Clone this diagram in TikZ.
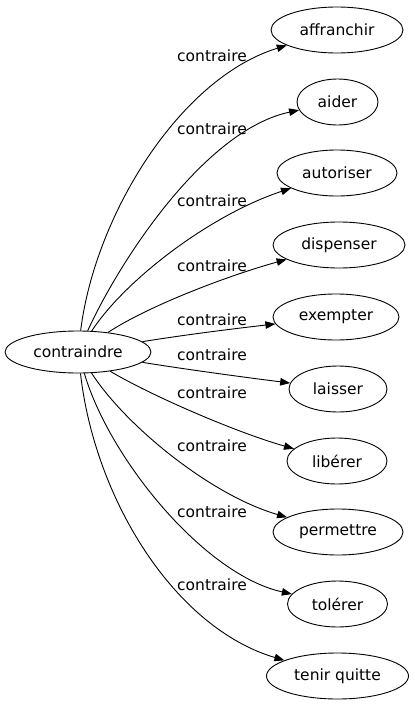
\documentclass[tikz,border=0pt]{standalone}
\usepackage{fontspec}
\setmainfont{DejaVu Sans}
\usetikzlibrary{shapes.geometric,arrows.meta}
\begin{document}
\begin{tikzpicture}[x=1pt,y=-1pt,
  word/.style={ellipse,draw,line width=0.9pt,minimum height=46pt,inner sep=0pt,font=\fontsize{15.5}{18}\selectfont},
  rel/.style={font=\fontsize{15.5}{18}\selectfont,inner sep=0pt},
  link/.style={line width=0.9pt,-{Triangle[length=10pt,width=7.5pt]}}]
\useasboundingbox (0,0) rectangle (413,707);
\node[word,minimum width=146pt,minimum height=42pt] (root) at (78,352) {contraindre};
\node[word,minimum width=132pt] (n1) at (337,30) {affranchir};
\node[word,minimum width=81pt] (n2) at (337.5,102) {aider};
\node[word,minimum width=120pt] (n3) at (337,173) {autoriser};
\node[word,minimum width=132pt] (n4) at (339,245) {dispenser};
\node[word,minimum width=126pt] (n5) at (336,317) {exempter};
\node[word,minimum width=98pt] (n6) at (338,389) {laisser};
\node[word,minimum width=100pt] (n7) at (337,461) {libérer};
\node[word,minimum width=130pt] (n8) at (338,532) {permettre};
\node[word,minimum width=100pt] (n9) at (337.5,604) {tolérer};
\node[word,minimum width=142pt] (n10) at (337.5,676) {tenir quitte};
\node[rel] (l1) at (212,56) {contraire};
\node[rel] (l2) at (212,129) {contraire};
\node[rel] (l3) at (212,201) {contraire};
\node[rel] (l4) at (212,266) {contraire};
\node[rel] (l5) at (212,320) {contraire};
\node[rel] (l6) at (212,355) {contraire};
\node[rel] (l7) at (212,393) {contraire};
\node[rel] (l8) at (212,446) {contraire};
\node[rel] (l9) at (212,512) {contraire};
\node[rel] (l10) at (212,585) {contraire};
\draw[link] (root) .. controls (95,215) and (180,78) .. (n1);
\draw[link] (root) .. controls (120,260) and (205,130) .. (n2);
\draw[link] (root) .. controls (125,280) and (210,215) .. (n3);
\draw[link] (root) .. controls (150,305) and (230,275) .. (n4);
\draw[link] (root) .. controls (190,334) and (240,328) .. (n5);
\draw[link] (root) .. controls (190,370) and (250,378) .. (n6);
\draw[link] (root) .. controls (150,395) and (235,432) .. (n7);
\draw[link] (root) .. controls (125,425) and (210,495) .. (n8);
\draw[link] (root) .. controls (110,460) and (205,575) .. (n9);
\draw[link] (root) .. controls (95,500) and (175,628) .. (n10);
\end{tikzpicture}
\end{document}
